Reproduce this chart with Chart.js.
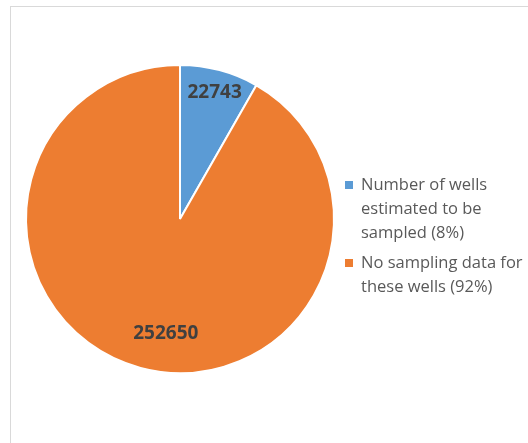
<!DOCTYPE html>
<html>
<head>
<meta charset="utf-8">
<script src="https://cdn.jsdelivr.net/npm/chart.js@4/dist/chart.umd.min.js"></script>
<style>
    html, body { margin: 0; padding: 0; background: #fff; }
    #frame {
        position: absolute;
        left: 10px;
        top: 6px;
        width: 530px;
        height: 460px;
        border: 1px solid #d9d9d9;
        box-sizing: border-box;
    }
    #wrap { position: absolute; left: 0; top: 0; width: 528px; height: 443px; }
</style>
</head>
<body>
<div id="frame"></div>
<div id="wrap"><canvas id="wellsChart" width="528" height="443"></canvas></div>
<script>
const categories = [
    ['Number of wells', 'estimated to be', 'sampled (8%)'],
    ['No sampling data for', 'these wells (92%)']
];
const wellCounts = [22743, 252650];
const sliceColors = ['#5b9bd5', '#ed7d31'];

// value labels sit along each slice's middle angle, nudged a little
const valueLabels = {
    id: 'valueLabels',
    afterDatasetsDraw(chart, args, opts) {
        const ctx = chart.ctx;
        const meta = chart.getDatasetMeta(0);
        ctx.save();
        ctx.font = 'bold 19px "Open Sans", sans-serif';
        ctx.fillStyle = '#404040';
        ctx.textAlign = 'center';
        ctx.textBaseline = 'middle';
        meta.data.forEach((arc, i) => {
            const p = arc.getProps(['x', 'y', 'startAngle', 'endAngle', 'outerRadius'], true);
            const mid = (p.startAngle + p.endAngle) / 2;
            const r = p.outerRadius * opts.radius[i];
            const x = p.x + Math.cos(mid) * r + opts.shift[i][0];
            const y = p.y + Math.sin(mid) * r + opts.shift[i][1];
            ctx.fillText(String(chart.data.datasets[0].data[i]), x, y);
        });
        ctx.restore();
    }
};

// legend on the right with wrapped lines
const sideLegend = {
    id: 'sideLegend',
    afterDraw(chart, args, opts) {
        const ctx = chart.ctx;
        ctx.save();
        ctx.font = '16.5px "Open Sans", sans-serif';
        ctx.textBaseline = 'middle';
        ctx.textAlign = 'left';
        let y = opts.top;
        categories.forEach((lines, i) => {
            ctx.fillStyle = sliceColors[i];
            ctx.fillRect(opts.left, y - 4, 8, 8);
            ctx.fillStyle = '#595959';
            lines.forEach((line, j) => {
                ctx.fillText(line, opts.left + 16, y);
                if (j < lines.length - 1) y += opts.lineHeight;
            });
            y += opts.itemGap;
        });
        ctx.restore();
    }
};

new Chart(document.getElementById('wellsChart'), {
    type: 'pie',
    data: {
        labels: categories.map(l => l.join(' ')),
        datasets: [{
            data: wellCounts,
            backgroundColor: sliceColors,
            borderColor: '#ffffff',
            borderWidth: 2
        }]
    },
    options: {
        responsive: false,
        animation: false,
        layout: { padding: { left: 25, top: 64, right: 193, bottom: 69 } },
        plugins: {
            legend: { display: false },
            tooltip: { enabled: false },
            valueLabels: { radius: [0.85, 0.74], shift: [[1, 0], [15, 4]] },
            sideLegend: { left: 345, top: 185, lineHeight: 24, itemGap: 30 }
        }
    },
    plugins: [valueLabels, sideLegend]
});
</script>
</body>
</html>
